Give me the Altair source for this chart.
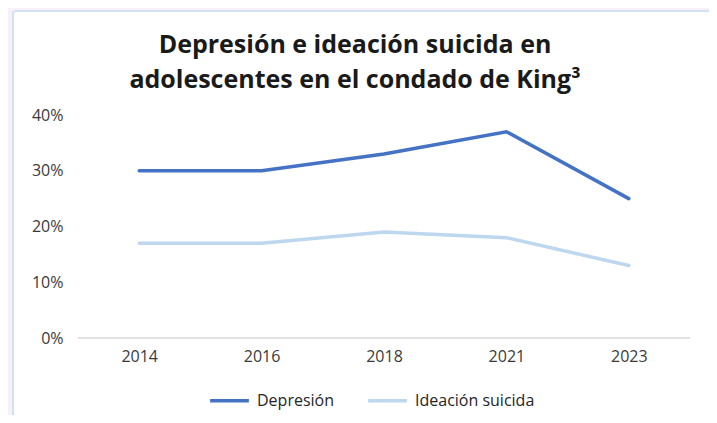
import altair as alt
import pandas as pd

years = ["2014", "2016", "2018", "2021", "2023"]
depresion = [0.30, 0.30, 0.33, 0.37, 0.25]
ideacion = [0.17, 0.17, 0.19, 0.18, 0.13]
series_names = ["Depresión", "Ideación suicida"]
series_colors = ["#4472c4", "#bdd7ee"]

rows = []
for i, y in enumerate(years):
    rows.append({"year": y, "serie": series_names[0], "value": depresion[i]})
    rows.append({"year": y, "serie": series_names[1], "value": ideacion[i]})
df = pd.DataFrame(rows)

W, H = 612, 223

box = alt.Chart(pd.DataFrame({"a": [0]})).mark_rect(
    fill="white", stroke="#d3e2f2", strokeWidth=2, cornerRadius=3
).encode(
    x=alt.value(-65), x2=alt.value(634), y=alt.value(-104), y2=alt.value(320)
)

base_rule = alt.Chart(pd.DataFrame({"a": [0]})).mark_rule(
    color="#d9d9d9", strokeWidth=1.5
).encode(x=alt.value(0), x2=alt.value(W), y=alt.value(H))

lines = alt.Chart(df).mark_line(strokeWidth=3.5, strokeCap="round").encode(
    x=alt.X("year:N", sort=years, scale=alt.Scale(paddingInner=0, paddingOuter=0.5),
            axis=alt.Axis(title=None, labelAngle=0, domain=False, ticks=False,
                          labelPadding=10, labelFontSize=16, labelColor="#3a3a3a",
                          labelFont="Open Sans", grid=False, zindex=2)),
    y=alt.Y("value:Q", scale=alt.Scale(domain=[0, 0.4]),
            axis=alt.Axis(title=None, format=".0%", values=[0, 0.1, 0.2, 0.3, 0.4],
                          domain=False, ticks=False, grid=False, labelPadding=15,
                          labelFontSize=16, labelColor="#3a3a3a", labelFont="Open Sans",
                          zindex=2)),
    color=alt.Color("serie:N", sort=series_names,
                    scale=alt.Scale(domain=series_names, range=series_colors),
                    legend=alt.Legend(title=None, orient="none", direction="horizontal",
                                      legendX=130, legendY=264, symbolType="stroke",
                                      symbolSize=1500, symbolStrokeWidth=3.5,
                                      labelFontSize=16, labelColor="#262626",
                                      labelFont="Open Sans", columnPadding=26,
                                      labelOffset=6, zindex=2)),
)

chart = alt.layer(box, base_rule, lines).properties(
    width=W, height=H,
    autosize=alt.AutoSizeParams(type="none"),
    padding={"left": 70, "top": 107, "right": 19, "bottom": 77},
    background="#f8f0f7",
    title=alt.TitleParams(
        text=["Depresión e ideación suicida en", "adolescentes en el condado de King³"],
        font="Open Sans", fontSize=25, fontWeight="bold", color="#1a1a1a",
        anchor="middle", dx=-29, offset=-83, lineHeight=35, zindex=2,
    ),
).configure_view(stroke=None)

chart.save("out.html", embed_options={"renderer": "svg", "actions": False})
